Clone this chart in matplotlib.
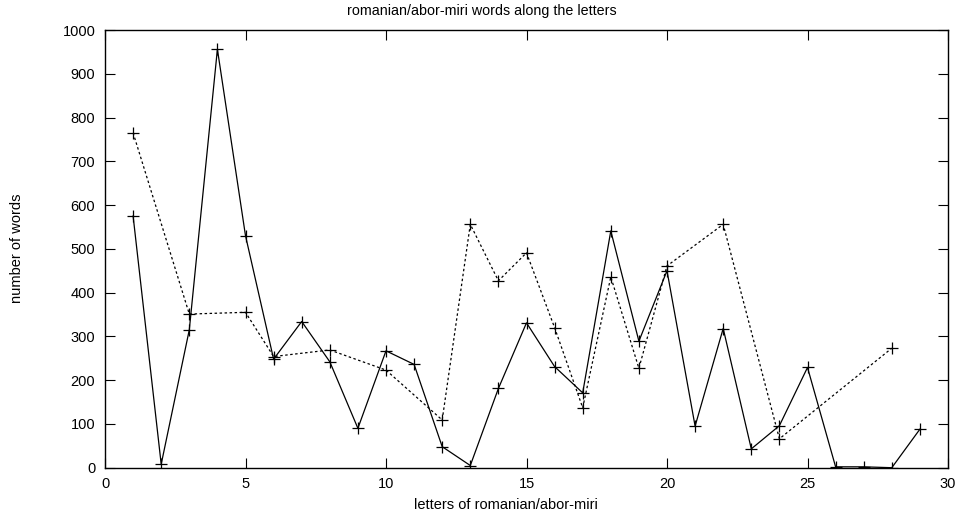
import matplotlib
matplotlib.use("Agg")
import matplotlib.pyplot as plt

# --- Data ---
letters_solid = list(range(1, 30))
words_solid = [575, 8, 315, 956, 530, 248, 334, 242, 90, 267,
               236, 48, 5, 181, 331, 231, 171, 541, 289, 450,
               95, 318, 43, 96, 229, 2, 2, 0, 88]

letters_dashed = [1, 3, 5, 6, 8, 10, 12, 13, 14, 15, 16, 17, 18, 19, 20, 22, 24, 28]
words_dashed = [765, 351, 355, 254, 269, 223, 109, 556, 427, 491,
                320, 137, 436, 227, 461, 556, 66, 273]

x_ticks = [0, 5, 10, 15, 20, 25, 30]
y_ticks = list(range(0, 1001, 100))

# --- Plot ---
plt.rcParams['font.family'] = ['Liberation Sans', 'DejaVu Sans']
plt.rcParams['font.size'] = 10.5

W, H = 963, 517
fig = plt.figure(figsize=(W / 100, H / 100), dpi=100)
ax = fig.add_axes([105 / W, 1 - 467.7 / H, (948 - 105) / W, (467.7 - 30) / H])

ax.plot(letters_solid, words_solid, color='black', lw=0.9, marker='+',
        markersize=8, markeredgewidth=0.9)
ax.plot(letters_dashed, words_dashed, color='black', lw=0.9, ls=(0, (2, 2)),
        marker='+', markersize=8, markeredgewidth=0.9)

ax.set_xlim(0, 30)
ax.set_ylim(0, 1000)
ax.set_xticks(x_ticks)
ax.set_yticks(y_ticks)
ax.tick_params(direction='in', length=7, width=0.8, top=True, right=True, pad=7)
for s in ax.spines.values():
    s.set_linewidth(1.0)

# titles placed in pixels like the gnuplot output
fig.text(481.5 / W, 1 - 11 / H, "romanian/abor-miri words along the letters",
         ha='center', va='center', fontsize=10.3)
fig.text(506 / W, 1 - 505 / H, "letters of romanian/abor-miri",
         ha='center', va='center', fontsize=10.5)
fig.text(17 / W, 1 - 248 / H, "number of words", rotation=90,
         ha='center', va='center', fontsize=10.5)

fig.savefig("out.png", dpi=100)
